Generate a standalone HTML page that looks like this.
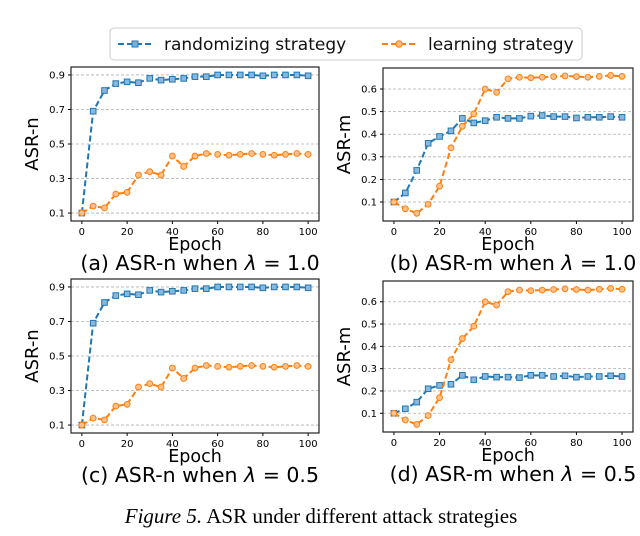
<!DOCTYPE html>
<html><head><meta charset="utf-8"><style>
body{margin:0;background:#fff;width:640px;height:531px;overflow:hidden}
svg text{font-family:"DejaVu Sans","Liberation Sans",sans-serif}
</style></head><body>
<svg id="fig" width="640" height="531" viewBox="0 0 640 531" xmlns="http://www.w3.org/2000/svg">
<g>
<rect x="110" y="28" width="472" height="32" rx="4" fill="#fff" stroke="#ccc"/>
<g>
<line x1="118" y1="44" x2="152" y2="44" stroke="#1f77b4" stroke-width="2" stroke-dasharray="6,3"/>
<rect x="132" y="41" width="6" height="6" fill="#7fb0d8" stroke="#1f77b4"/>
<text x="164" y="50" font-size="17" fill="#111">randomizing strategy</text></g>
<g>
<line x1="382" y1="44" x2="416" y2="44" stroke="#ff7f0e" stroke-width="2" stroke-dasharray="6,3"/>
<circle cx="399" cy="44" r="3.2" fill="#ffbb7f" stroke="#ff7f0e"/>
<text x="428" y="50" font-size="17" fill="#111">learning strategy</text></g>
</g>
<text x="321" y="523" text-anchor="middle" font-size="21" style="font-family:'Liberation Serif',serif"><tspan font-style="italic">Figure 5.</tspan><tspan font-style="normal"> ASR under different attack strategies</tspan></text>
</svg>
<script>
const epochs=[0,5,10,15,20,25,30,35,40,45,50,55,60,65,70,75,80,85,90,95,100];
const nRandom=[0.1,0.69,0.81,0.85,0.86,0.855,0.88,0.87,0.875,0.88,0.89,0.89,0.9,0.9,0.9,0.9,0.895,0.9,0.9,0.9,0.895];
const nLearning=[0.1,0.14,0.13,0.21,0.22,0.32,0.34,0.32,0.43,0.37,0.43,0.445,0.44,0.435,0.44,0.445,0.44,0.435,0.44,0.445,0.44];
const mRandom10=[0.1,0.14,0.24,0.36,0.39,0.415,0.47,0.45,0.46,0.475,0.47,0.47,0.48,0.483,0.478,0.478,0.472,0.475,0.475,0.478,0.475];
const mLearning=[0.1,0.07,0.05,0.09,0.17,0.34,0.435,0.49,0.6,0.585,0.645,0.652,0.65,0.652,0.655,0.658,0.655,0.652,0.656,0.66,0.656];
const mRandom05=[0.1,0.12,0.15,0.21,0.225,0.23,0.27,0.25,0.265,0.262,0.262,0.26,0.27,0.27,0.265,0.268,0.262,0.265,0.265,0.268,0.265];
const nTicks=[0.1,0.3,0.5,0.7,0.9];
const mTicks=[0.1,0.2,0.3,0.4,0.5,0.6];
const xTicks=[0,20,40,60,80,100];
const NS='http://www.w3.org/2000/svg';
const svg=document.getElementById('fig');
function mk(tag,attrs,parent){const e=document.createElementNS(NS,tag);for(const k in attrs)e.setAttribute(k,attrs[k]);parent.appendChild(e);return e;}
function panel(id,L,T,R,B,ymin,ymax,yt,ylab,cap,dec,series){
 const g=mk('g',{},svg);
 
 
 const xs=v=>L+(v+4.8)/109.6*(R-L);
 const ys=v=>B-(v-ymin)/(ymax-ymin)*(B-T);
 yt.forEach(t=>{
  const ln=mk('line',{x1:L,x2:R,y1:ys(t),y2:ys(t),stroke:'#b0b0b0','stroke-width':0.8,'stroke-dasharray':'3,2'},g);
  
  
  mk('line',{x1:L-3,x2:L,y1:ys(t),y2:ys(t),stroke:'#000'},g);
  const tx=mk('text',{x:L-6,y:ys(t)+3.5,'text-anchor':'end','font-size':10},g);
  tx.textContent=t.toFixed(1);
  
  
 });
 xTicks.forEach(t=>{
  mk('line',{x1:xs(t),x2:xs(t),y1:B,y2:B+3,stroke:'#000'},g);
  const tx=mk('text',{x:xs(t),y:B+14,'text-anchor':'middle','font-size':10},g);
  tx.textContent=t;
  
  
 });
 series.forEach(([vals,col,fill,sq,nm])=>{
  const pts=epochs.map((e,i)=>xs(e)+','+ys(vals[i])).join(' ');
  const pl=mk('polyline',{points:pts,fill:'none',stroke:col,'stroke-width':2,'stroke-dasharray':'6,3'},g);
  
  
  epochs.forEach((e,i)=>{
   let m;
   if(sq) m=mk('rect',{x:xs(e)-2.8,y:ys(vals[i])-2.8,width:5.6,height:5.6,fill:fill,stroke:col,'stroke-width':1},g);
   else m=mk('circle',{cx:xs(e),cy:ys(vals[i]),r:2.9,fill:fill,stroke:col,'stroke-width':1},g);
   
   
  });
 });
 const fr=mk('rect',{x:L,y:T,width:R-L,height:B-T,fill:'none',stroke:'#222','stroke-width':1.2},g);
 
 
 const yl=mk('text',{x:0,y:0,'text-anchor':'middle','font-size':18,transform:`translate(${L-33},${(T+B)/2}) rotate(-90)`},g);
 yl.textContent=ylab;
 
 
 const xl=mk('text',{x:(L+R)/2,y:B+29,'text-anchor':'middle','font-size':17.5},g);
 xl.textContent='Epoch';
 
 
 const c=mk('text',{x:(L+R)/2+5,y:B+49,'text-anchor':'middle','font-size':20.5},g);
 c.innerHTML=cap+' when <tspan font-style="italic">λ</tspan> = '+dec;
 
 
}
const B1=['#1f77b4','#8ab8dc',true,'randomizing'], O1=['#ff7f0e','#ffc08a',false,'learning'];
panel('panel-a',71,67,319,221,0.054,0.946,nTicks,'ASR-n','(a) ASR-n','1.0',[[nRandom,...B1],[nLearning,...O1]]);
panel('panel-b',383,68,633,221,0.016,0.693,mTicks,'ASR-m','(b) ASR-m','1.0',[[mRandom10,...B1],[mLearning,...O1]]);
panel('panel-c',71,279,319,433,0.054,0.946,nTicks,'ASR-n','(c) ASR-n','0.5',[[nRandom,...B1],[nLearning,...O1]]);
panel('panel-d',383,281,633,432,0.016,0.693,mTicks,'ASR-m','(d) ASR-m','0.5',[[mRandom05,...B1],[mLearning,...O1]]);
</script>
</body></html>
